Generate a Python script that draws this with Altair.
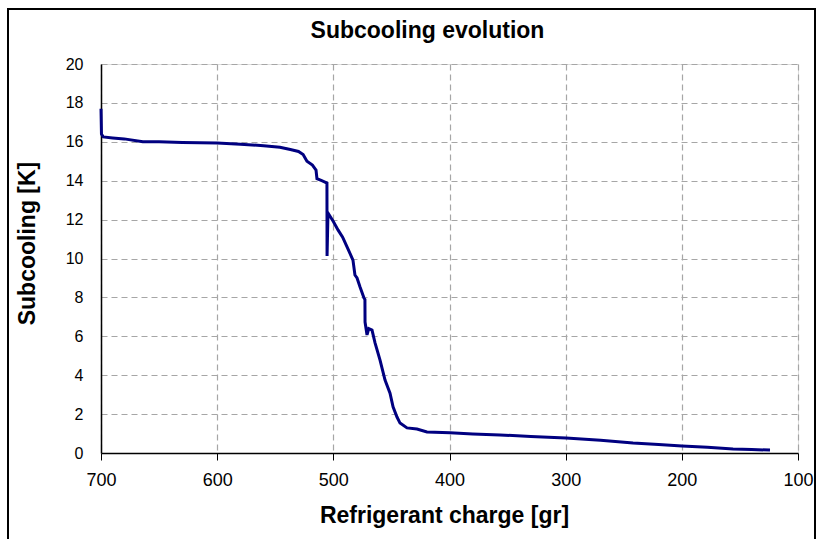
import altair as alt
import pandas as pd

# Refrigerant charge [gr] (in time order)
charge = [700.0, 699.6, 698.0, 690, 680, 664, 650, 630, 600, 580, 560, 546, 537,
          530, 526, 522.7, 518, 515.5, 514.9, 514.1, 510, 507.2, 505.5, 505.4, 504.6,
          500, 496.0, 492, 488.2, 483.1, 481.4, 479.6, 477.0, 473.6, 472.8, 472.7,
          471.0, 469.5, 466.7, 464.1, 459.8, 455.5, 451.2, 448.6, 445.2, 442.6,
          436.6, 428.0, 419.4, 399.6, 380, 356.5, 330, 299.7, 270, 242.0, 220,
          199.9, 178, 155.9, 140, 124.1]
# Subcooling [K]
subcooling = [17.7, 16.4, 16.25, 16.2, 16.15, 16.0, 16.0, 15.97, 15.94, 15.88, 15.8, 15.72, 15.6,
              15.5, 15.35, 15.0, 14.8, 14.6, 14.55, 14.1, 14.0, 13.93, 13.88, 10.13, 12.34,
              11.9, 11.47, 11.1, 10.6, 9.92, 9.15, 9.0, 8.53, 7.97, 7.9, 6.73,
              6.07, 6.4, 6.32, 5.66, 4.78, 3.75, 3.08, 2.37, 1.85, 1.54,
              1.29, 1.23, 1.08, 1.04, 0.98, 0.93, 0.85, 0.77, 0.65, 0.51, 0.44,
              0.36, 0.29, 0.21, 0.18, 0.15]

x_ticks = [700, 600, 500, 400, 300, 200, 100]
y_ticks = [0, 2, 4, 6, 8, 10, 12, 14, 16, 18, 20]

df = pd.DataFrame({"charge": charge, "sub": subcooling, "i": list(range(len(charge)))})

FONT = "Liberation Sans"

line = alt.Chart(df).mark_line(color="#000080", strokeWidth=3).encode(
    x=alt.X("charge:Q",
            scale=alt.Scale(domain=[700, 100], nice=False, zero=False),
            axis=alt.Axis(values=x_ticks, title="Refrigerant charge [gr]",
                          titleFont=FONT, titleFontSize=23, titleFontWeight="bold",
                          titleColor="black", titleX=343, titleY=69,
                          titleBaseline="alphabetic", titleAlign="center",
                          labelFont=FONT, labelFontSize=18, labelColor="black",
                          labelFlush=False,
                          labelPadding=11, tickSize=7, tickColor="black",
                          domainColor="black", domainWidth=1.5,
                          grid=True, gridDash=[6, 4], gridColor="#a6a6a6",
                          gridWidth=1.2)),
    y=alt.Y("sub:Q",
            scale=alt.Scale(domain=[0, 20], nice=False),
            axis=alt.Axis(values=y_ticks, title="Subcooling [K]",
                          titleFont=FONT, titleFontSize=23, titleFontWeight="bold",
                          titleColor="black", titleAngle=-90, titleX=-67, titleY=179,
                          titleBaseline="alphabetic", titleAlign="center",
                          labelFont=FONT, labelFontSize=16, labelColor="black",
                          labelFlush=False,
                          labelPadding=18, tickSize=0,
                          domainColor="black", domainWidth=1.5,
                          grid=True, gridDash=[6, 4], gridColor="#a6a6a6",
                          gridWidth=1.2)),
    order="i:Q",
)

frame = alt.Chart(pd.DataFrame({"a": [0]})).mark_rect(
    filled=False, stroke="black", strokeWidth=2
).encode(
    x=alt.value(-93), x2=alt.value(714), y=alt.value(-55), y2=alt.value(485)
)

chart = alt.layer(frame, line).properties(
    width=697, height=389,
    padding={"left": 101, "top": 64, "right": 18, "bottom": 86},
    autosize=alt.AutoSizeParams(type="none"),
    title=alt.TitleParams("Subcooling evolution", font=FONT, fontSize=23,
                          fontWeight="bold", color="black", anchor="middle",
                          frame="group", baseline="alphabetic", offset=-53, dx=-22),
).configure_view(stroke="#888888", strokeWidth=2).configure(background="white")

chart.save("out.html", embed_options={"renderer": "svg", "actions": False})
